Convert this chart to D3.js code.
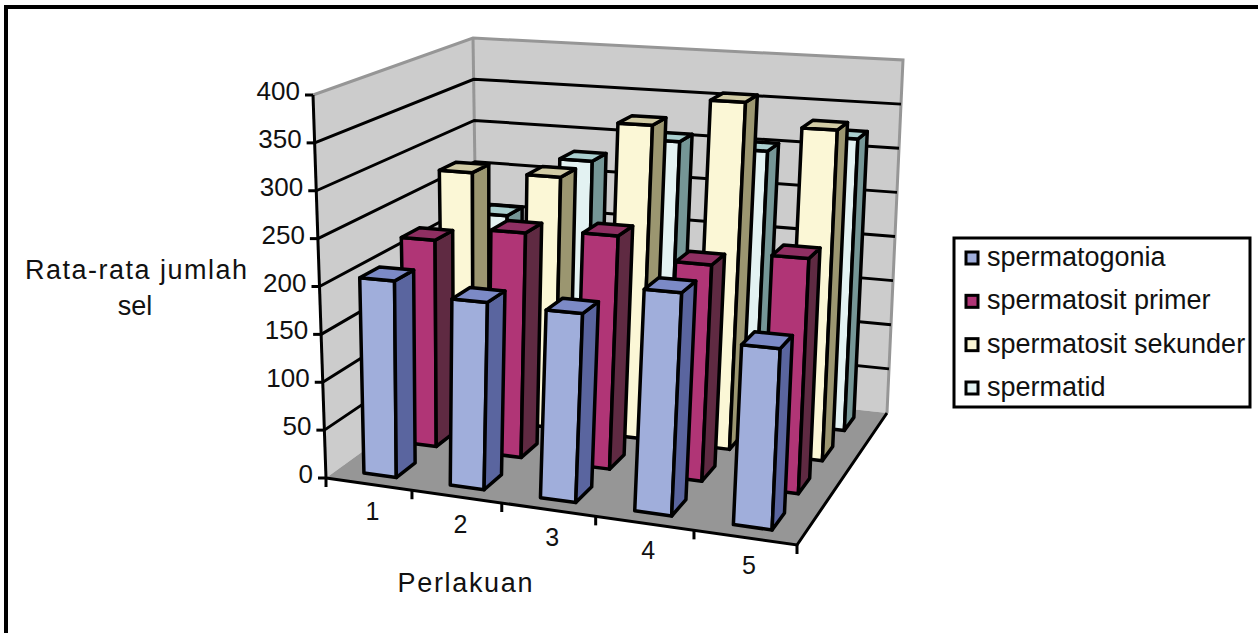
<!DOCTYPE html>
<html>
<head>
<meta charset="utf-8">
<script src="https://cdn.jsdelivr.net/npm/d3@7"></script>
<style>
	body { margin: 0; background: #fff; }
	text { font-family: "Liberation Sans", Arial, sans-serif; fill: #111; }
</style>
</head>
<body>
<svg id="chart" width="1258" height="633"></svg>
<script>
const categories = ["1", "2", "3", "4", "5"];
const seriesNames = ["spermatogonia", "spermatosit primer", "spermatosit sekunder", "spermatid"];
const spermatogonia = [205, 192, 190, 220, 175];
const spermatositPrimer = [224, 240, 245, 223, 238];
const spermatositSekunder = [277, 279, 343, 374, 350];
const spermatid = [206, 277, 306, 302, 322];
const seriesValues = [spermatogonia, spermatositPrimer, spermatositSekunder, spermatid];
const valueTicks = [0, 50, 100, 150, 200, 250, 300, 350, 400];

// front, side, top, one row per series
const barColours = [
	["#a0aedb", "#5a659f", "#7c8ac6"],
	["#b03576", "#5f2a42", "#8f2f62"],
	["#fbf7d6", "#9b9670", "#d1cba5"],
	["#e3f2f2", "#759696", "#aacfcf"]
];

// box corners on screen: front left, front right, back right, back left
const floorQuad = [[326, 478], [797, 545], [887, 413], [478, 368]];
const topQuad = [[313, 95], [815, 122], [903, 60], [473, 38]];

const barFrac = 0.38;
const depthFrac = 0.46;

function quadMap(q) {
	// unit square to quad homography
	const [p0, p1, p2, p3] = q;
	const dx1 = p1[0] - p2[0], dx2 = p3[0] - p2[0], sx = p0[0] - p1[0] + p2[0] - p3[0];
	const dy1 = p1[1] - p2[1], dy2 = p3[1] - p2[1], sy = p0[1] - p1[1] + p2[1] - p3[1];
	const den = dx1 * dy2 - dx2 * dy1;
	const g = (sx * dy2 - dx2 * sy) / den;
	const h = (dx1 * sy - sx * dy1) / den;
	const a = p1[0] - p0[0] + g * p1[0], b = p3[0] - p0[0] + h * p3[0];
	const d = p1[1] - p0[1] + g * p1[1], e = p3[1] - p0[1] + h * p3[1];
	return (u, v) => {
		const w = g * u + h * v + 1;
		return [(a * u + b * v + p0[0]) / w, (d * u + e * v + p0[1]) / w];
	};
}

const floorMap = quadMap(floorQuad);
const topMap = quadMap(topQuad);

const xScale = d3.scaleBand().domain(categories).range([0, 1]).paddingInner(0);
const zScale = d3.scaleBand().domain(seriesNames).range([0, 1]).paddingInner(0);
const yScale = d3.scaleLinear().domain([0, 400]).range([0, 1]);

function project(u, v, value) {
	const a = floorMap(u, v), b = topMap(u, v), t = yScale(value);
	return [a[0] + (b[0] - a[0]) * t, a[1] + (b[1] - a[1]) * t];
}

const poly = d3.line().curve(d3.curveLinearClosed);
const svg = d3.select("#chart");

// outer frame, only top and left are in the picture
svg.append("path")
	.attr("d", "M1258,7H6V633")
	.attr("fill", "none")
	.attr("stroke", "#000")
	.attr("stroke-width", 4);

// walls and floor
svg.append("path").attr("d", poly([[0, 0], [0, 1]].map(d => project(d[0], d[1], 0)).concat([[0, 1], [0, 0]].map(d => project(d[0], d[1], 400)))))
	.attr("fill", "#cccccc");
svg.append("path").attr("d", poly([[0, 1], [1, 1]].map(d => project(d[0], d[1], 0)).concat([[1, 1], [0, 1]].map(d => project(d[0], d[1], 400)))))
	.attr("fill", "#cccccc");
svg.append("path").attr("d", poly([[0, 0], [1, 0], [1, 1], [0, 1]].map(d => project(d[0], d[1], 0))))
	.attr("fill", "#969696");

// wall edges
svg.append("path")
	.attr("d", d3.line()([project(0, 0, 400), project(0, 1, 400), project(1, 1, 400), project(1, 1, 0)]))
	.attr("fill", "none").attr("stroke", "#969696").attr("stroke-width", 3);
svg.append("path")
	.attr("d", d3.line()([project(0, 1, 400), project(0, 1, 0)]))
	.attr("fill", "none").attr("stroke", "#969696").attr("stroke-width", 3);

// gridlines along both walls
valueTicks.slice(1, -1).forEach(v => {
	svg.append("path")
		.attr("d", d3.line()([project(0, 0, v), project(0, 1, v), project(1, 1, v)]))
		.attr("fill", "none").attr("stroke", "#000").attr("stroke-width", 3);
});

// value axis
svg.append("path")
	.attr("d", d3.line()([project(0, 0, 0), project(0, 0, 400)]))
	.attr("fill", "none").attr("stroke", "#000").attr("stroke-width", 3);
const yTicks = svg.append("g").selectAll("g").data(valueTicks).enter().append("g");
yTicks.append("line")
	.attr("x1", d => project(0, 0, d)[0])
	.attr("y1", d => project(0, 0, d)[1])
	.attr("x2", d => project(0, 0, d)[0] - 8)
	.attr("y2", d => project(0, 0, d)[1])
	.attr("stroke", "#000").attr("stroke-width", 3);
yTicks.append("text")
	.text(d => d)
	.attr("x", d => project(0, 0, d)[0] - 13)
	.attr("y", d => project(0, 0, d)[1] + 5)
	.attr("text-anchor", "end")
	.attr("font-size", 26);

// category axis
svg.append("path")
	.attr("d", d3.line()([project(0, 0, 0), project(1, 0, 0), project(1, 1, 0)]))
	.attr("fill", "none").attr("stroke", "#000").attr("stroke-width", 3);
svg.append("g").selectAll("line").data(categories.map((c, i) => i / categories.length).concat(1)).enter().append("line")
	.attr("x1", d => project(d, 0, 0)[0])
	.attr("y1", d => project(d, 0, 0)[1])
	.attr("x2", d => project(d, 0, 0)[0])
	.attr("y2", d => project(d, 0, 0)[1] + 9)
	.attr("stroke", "#000").attr("stroke-width", 3);
svg.append("g").selectAll("text").data(categories).enter().append("text")
	.text(d => d)
	.attr("x", d => project(xScale(d) + xScale.bandwidth() / 2, 0, 0)[0] + 4)
	.attr("y", d => project(xScale(d) + xScale.bandwidth() / 2, 0, 0)[1] + 36)
	.attr("text-anchor", "middle")
	.attr("font-size", 25);

// bars, back row first
seriesNames.map((s, j) => j).reverse().forEach(j => {
	const cols = barColours[j];
	categories.forEach((c, i) => {
		const pad = (1 - barFrac) / 2, dpad = (1 - depthFrac) / 2;
		const u0 = xScale(c) + xScale.bandwidth() * pad, u1 = xScale(c) + xScale.bandwidth() * (1 - pad);
		const v0 = zScale(seriesNames[j]) + zScale.bandwidth() * dpad, v1 = zScale(seriesNames[j]) + zScale.bandwidth() * (1 - dpad);
		const val = seriesValues[j][i];
		const g = svg.append("g").attr("stroke", "#000").attr("stroke-width", 3.5).attr("stroke-linejoin", "round");
		g.append("path").attr("fill", cols[0])
			.attr("d", poly([project(u0, v0, 0), project(u1, v0, 0), project(u1, v0, val), project(u0, v0, val)]));
		g.append("path").attr("fill", cols[1])
			.attr("d", poly([project(u1, v0, 0), project(u1, v1, 0), project(u1, v1, val), project(u1, v0, val)]));
		g.append("path").attr("fill", cols[2])
			.attr("d", poly([project(u0, v0, val), project(u1, v0, val), project(u1, v1, val), project(u0, v1, val)]));
	});
});

// axis titles
svg.append("text").text("Rata-rata jumlah").attr("x", 136).attr("y", 279).attr("text-anchor", "middle").attr("font-size", 27).attr("textLength", 222);
svg.append("text").text("sel").attr("x", 135).attr("y", 315).attr("text-anchor", "middle").attr("font-size", 27);
svg.append("text").text("Perlakuan").attr("x", 465).attr("y", 592).attr("text-anchor", "middle").attr("font-size", 27).attr("textLength", 135);

// legend
const legendY = d3.scalePoint().domain(seriesNames).range([258, 388]);
svg.append("rect").attr("x", 954).attr("y", 238).attr("width", 296).attr("height", 169).attr("fill", "#fff").attr("stroke", "#000").attr("stroke-width", 3);
const legendItem = svg.append("g").selectAll("g").data(seriesNames).enter().append("g");
legendItem.append("rect")
	.attr("x", 966).attr("y", d => legendY(d) - 6)
	.attr("width", 12).attr("height", 12)
	.attr("fill", (d, i) => barColours[i][0])
	.attr("stroke", "#000").attr("stroke-width", 3);
legendItem.append("text")
	.text(d => d)
	.attr("x", 987).attr("y", d => legendY(d) + 8)
	.attr("font-size", 27);
</script>
</body>
</html>
